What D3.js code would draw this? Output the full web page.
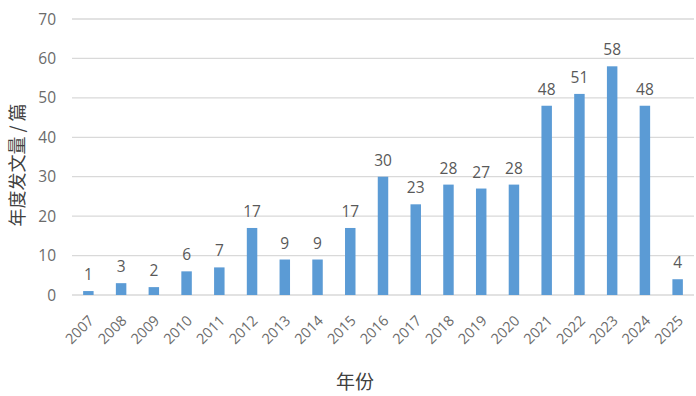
<!DOCTYPE html>
<html>
<head>
<meta charset="utf-8">
<script src="https://cdn.jsdelivr.net/npm/d3@7"></script>
<style>
  body { margin: 0; background: #fff; }
  svg { display: block; font-family: "Open Sans", "Liberation Sans", sans-serif; }
</style>
</head>
<body>
<svg id="chart" width="696" height="396"></svg>
<script>
const years = ["2007","2008","2009","2010","2011","2012","2013","2014","2015","2016","2017","2018","2019","2020","2021","2022","2023","2024","2025"];
const counts = [1,3,2,6,7,17,9,9,17,30,23,28,27,28,48,51,58,48,4];
const yTicks = [0,10,20,30,40,50,60,70];

const svg = d3.select("#chart");
const margin = {left: 72, right: 2, top: 19, bottom: 101};
const width = 696, height = 396;

const x = d3.scaleBand().domain(years).range([margin.left, width - margin.right]).paddingInner(0.68).paddingOuter(0.34);
const y = d3.scaleLinear().domain([0, 70]).range([height - margin.bottom, margin.top]);

// gridlines
svg.append("g").selectAll("line")
    .data(yTicks)
    .enter().append("line")
    .attr("x1", margin.left).attr("x2", width - margin.right)
    .attr("y1", d => y(d)).attr("y2", d => y(d))
    .attr("stroke", "#d9d9d9")
    .attr("stroke-width", 1.3);

// y tick labels
svg.append("g").selectAll("text")
    .data(yTicks)
    .enter().append("text")
    .attr("x", 56).attr("y", d => y(d))
    .attr("dy", "0.36em")
    .attr("text-anchor", "end")
    .attr("font-size", "15.5px")
    .attr("fill", "#6b6b6b")
    .text(d => d);

// bars
svg.append("g").selectAll("rect")
    .data(years)
    .enter().append("rect")
    .attr("x", d => x(d))
    .attr("width", x.bandwidth())
    .attr("y", (d, i) => y(counts[i]))
    .attr("height", (d, i) => y(0) - y(counts[i]))
    .attr("fill", "#5B9BD5");

// value labels
svg.append("g").selectAll("text")
    .data(years)
    .enter().append("text")
    .attr("x", d => x(d) + x.bandwidth() / 2)
    .attr("y", (d, i) => y(counts[i]) - 11)
    .attr("text-anchor", "middle")
    .attr("font-size", "15.5px")
    .attr("fill", "#595959")
    .text((d, i) => counts[i]);

// x tick labels, rotated
svg.append("g").selectAll("text")
    .data(years)
    .enter().append("text")
    .attr("transform", d => `translate(${x(d) + x.bandwidth() / 2 + 3},${y(0) + 23}) rotate(-45)`)
    .attr("text-anchor", "end")
    .attr("dy", "0.35em")
    .attr("font-size", "14.5px")
    .attr("fill", "#6b6b6b")
    .text(d => d);

// axis titles
svg.append("text")
    .attr("transform", `translate(24,${(margin.top + height - margin.bottom) / 2 + 8}) rotate(-90)`)
    .attr("text-anchor", "middle")
    .attr("font-family", "'Noto Sans CJK SC', sans-serif")
    .attr("font-size", "18px")
    .attr("fill", "#404040")
    .text("年度发文量 / 篇");

svg.append("text")
    .attr("x", 355).attr("y", 389)
    .attr("text-anchor", "middle")
    .attr("font-family", "'Noto Sans CJK SC', sans-serif")
    .attr("font-size", "19px")
    .attr("fill", "#404040")
    .text("年份");
</script>
</body>
</html>
